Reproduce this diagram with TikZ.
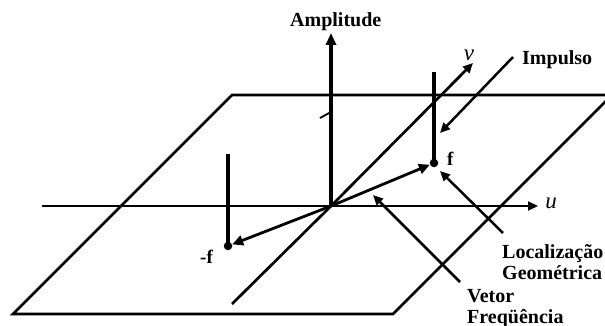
\documentclass[tikz,border=0pt]{standalone}
\usepackage{fontspec}
\setmainfont{Liberation Serif}
\usetikzlibrary{arrows.meta}
\tikzset{
  axisline/.style={line width=2.2pt},
  planeline/.style={line width=2.8pt, line join=miter},
  impulseline/.style={line width=3.5pt},
  thickarrow/.style={line width=2.8pt, -{Triangle[length=11pt,width=10pt]}},
  ptrarrow/.style={line width=2.5pt, -{Triangle[length=10pt,width=9pt]}},
  lbl/.style={font=\fontsize{20}{22}\selectfont\bfseries, inner sep=0pt, anchor=base west},
  axlbl/.style={font=\fontsize{23}{24}\selectfont\itshape, inner sep=0pt},
  dotnode/.style={circle, fill=black, inner sep=0pt, minimum size=8.5pt}
}
\begin{document}
\begin{tikzpicture}[x=1pt,y=-1pt]
\clip (0,0) rectangle (605,326);
\fill[white] (0,0) rectangle (605,326);
% plane corners
\coordinate (bl) at (13,314);
\coordinate (tl) at (232,95);
\coordinate (tr) at (612,95);
\coordinate (br) at (393,314);
\draw[planeline] (bl) -- (tl) -- (tr) -- (br) -- cycle;
% origin and axes
\coordinate (o) at (331,206);
\coordinate (ustart) at (42,206);
\coordinate (uend) at (538,206);
\coordinate (vstart) at (232,304);
\coordinate (vend) at (473,63);
\coordinate (aend) at (331,33);
\draw[axisline, -{Triangle[length=10pt,width=9pt]}] (ustart) -- (uend);
\draw[line width=2.7pt] (vstart) -- (o);
\draw[line width=2.7pt, -{Triangle[length=10pt,width=9pt]}] (o) -- (vend);
\draw[line width=3.2pt, -{Triangle[length=12pt,width=10pt]}] (o) -- (aend);
\coordinate (tk1) at (320,118);
\coordinate (tk2) at (331,112);
\draw[line width=1.8pt] (tk1) -- (tk2);
% impulses
\node[dotnode] (f) at (434,163) {};
\node[dotnode] (mf) at (228,246) {};
\coordinate (ftop) at (434,72);
\coordinate (mftop) at (228,154);
\draw[impulseline] (ftop) -- (f.center);
\draw[impulseline] (mftop) -- (mf.center);
% frequency vectors
\draw[thickarrow] (o) -- (f);
\draw[thickarrow] (o) -- (mf);
% labels
\node[lbl] (amp) at (290,27) {Amplitude};
\node[lbl] (imp) at (522,65) {Impulso};
\node[lbl] (loc) at (502,258) {Localização};
\node[lbl] (geo) at (502,279) {Geométrica};
\node[lbl] (vet) at (467,302) {Vetor};
\node[lbl] (freq) at (467,323) {Freqüência};
\node[lbl, font=\fontsize{19}{22}\selectfont\bfseries] (flbl) at (447,165) {f};
\node[lbl, font=\fontsize{19}{22}\selectfont\bfseries] (mflbl) at (200,263) {-f};
\node[axlbl] (vlbl) at (469,55) {v};
\node[axlbl] (ulbl) at (551,203) {u};
% pointer arrows
\coordinate (impfrom) at (513,57);
\coordinate (impto) at (440,133);
\draw[ptrarrow] (impfrom) -- (impto);
\coordinate (locfrom) at (503,233);
\coordinate (locto) at (440,171);
\draw[ptrarrow] (locfrom) -- (locto);
\coordinate (vetfrom) at (460,282);
\coordinate (vetto) at (373,195);
\draw[ptrarrow] (vetfrom) -- (vetto);
\end{tikzpicture}
\end{document}
